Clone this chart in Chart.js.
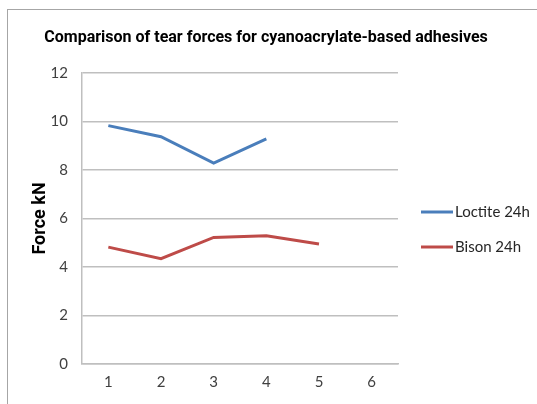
<!DOCTYPE html>
<html><head><meta charset="utf-8">
<script src="https://cdn.jsdelivr.net/npm/chart.js@4/dist/chart.umd.min.js"></script>
<style>
html,body{margin:0;padding:0;background:#fff;overflow:hidden}
#frame{position:absolute;left:7px;top:9px;width:600px;height:500px;border:1px solid #a6a6a6;}
#wrap{position:absolute;left:0;top:0;width:537px;height:404px}
</style></head><body>
<div id="frame"></div>
<div id="wrap"><canvas id="c" width="537" height="404"></canvas></div>
<script>
const categories = ["1","2","3","4","5","6"];
const loctite = [9.83, 9.37, 8.28, 9.28, null, null];
const bison = [4.82, 4.34, 5.22, 5.29, 4.95, null];
const seriesNames = ["Loctite 24h", "Bison 24h"];
const yTicks = [0, 2, 4, 6, 8, 10, 12];
const titleText = "Comparison of tear forces for cyanoacrylate-based adhesives";
const yTitle = "Force kN";

const legendPlugin = {
  id: 'customLegend',
  afterDraw(chart) {
    const ctx = chart.ctx;
    ctx.save();
    const ys = [212, 247];
    chart.data.datasets.forEach((ds, i) => {
      const y = ys[i];
      ctx.strokeStyle = ds.borderColor;
      ctx.lineWidth = 3;
      ctx.beginPath(); ctx.moveTo(421, y); ctx.lineTo(453, y); ctx.stroke();
      ctx.fillStyle = '#262626';
      ctx.font = '15px Lato';
      ctx.textBaseline = 'middle';
      ctx.textAlign = 'left';
      ctx.fillText(ds.label, 455, y);
    });
    ctx.font = 'bold 16px Roboto';
    ctx.fillStyle = '#000';
    ctx.textAlign = 'center';
    ctx.textBaseline = 'middle';
    ctx.fillText(titleText, 266, 38);
    ctx.restore();
  }
};

new Chart(document.getElementById('c'), {
  type: 'line',
  data: {
    labels: categories,
    datasets: [
      {label: seriesNames[0], data: loctite, borderColor: '#4a7ebb', borderWidth: 3, pointRadius: 0, fill: false, tension: 0},
      {label: seriesNames[1], data: bison, borderColor: '#be4b48', borderWidth: 3, pointRadius: 0, fill: false, tension: 0}
    ]
  },
  options: {
    responsive: false,
    animation: false,
    layout: {padding: {left: 24, top: 73, right: 139, bottom: 0}},
    plugins: {legend: {display: false}, title: {display: false}, tooltip: {enabled: false}},
    scales: {
      x: {
        offset: true,
        grid: {display: false, drawTicks: false},
        border: {display: true, color: '#bfbfbf', width: 1.5},
        ticks: {color: '#404040', font: {family: 'Lato', size: 15}, padding: 9, maxRotation: 0},
        afterFit(s) { s.height = 40; }
      },
      y: {
        min: 0, max: 12,
        afterBuildTicks(s) { s.ticks = yTicks.map(v => ({value: v})); },
        grid: {color: '#bfbfbf', lineWidth: 1.5, drawTicks: false},
        border: {display: true, color: '#bfbfbf', width: 1.5},
        ticks: {color: '#404040', font: {family: 'Lato', size: 15}, padding: 14},
        title: {display: true, text: yTitle, color: '#000', font: {family: 'Roboto', size: 18, weight: 'bold'}, padding: {top: 6, bottom: 0}},
        afterFit(s) { s.width = 58; }
      }
    }
  },
  plugins: [legendPlugin]
});
</script>
</body></html>
